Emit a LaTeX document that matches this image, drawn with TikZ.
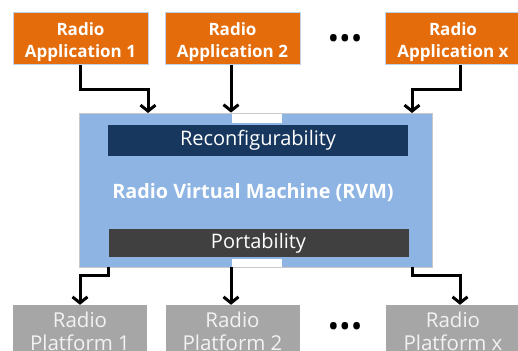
\documentclass[tikz,border=0pt]{standalone}
\usepackage{fontspec}
\setmainfont{Open Sans}
\usetikzlibrary{arrows.meta}

\definecolor{appOrange}{RGB}{228,108,10}
\definecolor{appEdge}{RGB}{190,210,235}
\definecolor{rvmBlue}{RGB}{141,180,226}
\definecolor{rvmEdge}{RGB}{200,200,200}
\definecolor{reconfNavy}{RGB}{23,55,94}
\definecolor{portGray}{RGB}{64,64,64}
\definecolor{platGray}{RGB}{166,166,166}
\definecolor{platText}{RGB}{242,242,242}

\begin{document}
\begin{tikzpicture}
[x=1pt,y=-1pt,
  appDecorate/.style={fill=appOrange,draw=appEdge,line width=0.8pt,
    minimum width=135pt,minimum height=52pt,inner sep=0pt,align=center,
    text height=45pt,text depth=7pt,
    text=white,font=\fontsize{17}{22}\selectfont\bfseries},
  platDecorate/.style={fill=platGray,minimum width=134pt,minimum height=52pt,
    inner sep=0pt,align=center,text=platText,
    font=\fontsize{20.5}{23}\selectfont},
  barDecorate/.style={minimum width=300pt,inner sep=0pt,text=white,
    font=\fontsize{20}{22}\selectfont},
  dotsDecorate/.style={inner sep=0pt,font=\fontsize{31}{31}\selectfont},
  lineDecorate/.style={line width=3pt,-{Straight Barb[length=6pt,width=15pt]}}]
\clip (0,0) rectangle (518,350);
%% applications and platforms
\foreach \nodename/\x/\txt in {
  app1/80.5/Application 1,
  app2/232.5/Application 2,
  appx/453/Application x}
{
  \node (\nodename) at (\x,38.5) [appDecorate] {Radio\\\txt};
}
\foreach \nodename/\x/\txt in {
  plat1/80/Platform 1,
  plat2/232.5/Platform 2,
  platx/453/Platform x}
{
  \node (\nodename) at (\x,331) [platDecorate] {Radio\\\txt};
}
\node (dotsTop) at (345,42) [dotsDecorate] {•••};
\node (dotsBot) at (345,330) [dotsDecorate] {•••};
%% the virtual machine
\node (rvm) at (255.5,190) [fill=rvmBlue,draw=rvmEdge,line width=0.8pt,
  minimum width=353pt,minimum height=154pt,inner sep=0pt] {};
\fill[white] (232,113.5) rectangle (282,123);
\fill[white] (232,259) rectangle (282,266.5);
\node (reconf) at (258,140.5) [barDecorate,fill=reconfNavy,minimum height=31pt]
  {Reconfigurability};
\node (port) at (258.5,243) [barDecorate,fill=portGray,minimum height=28pt]
  {Portability};
\node (rvmLabel) at (253,193) [text=white,font=\fontsize{19.8}{22}\selectfont\bfseries]
  {Radio Virtual Machine (RVM)};
%% ends of connectors
\coordinate (in1) at (148,113);
\coordinate (inx) at (412,113);
\coordinate (out1) at (108,267);
\coordinate (outx) at (412,267);
%% edges or lines
\draw[lineDecorate] (app1.south) -- ++(0,25) -| (in1);
\draw[lineDecorate] (app2.south -| 231,0) -- (rvm.north -| 231,0);
\draw[lineDecorate] ([xshift=7pt]appx.south) -- ++(0,25) -| (inx);
\draw[lineDecorate] (out1) -- ++(0,8) -| (plat1.north);
\draw[lineDecorate] (rvm.south -| 231,0) -- (plat2.north -| 231,0);
\draw[lineDecorate] (outx) -- ++(0,8) -| ([xshift=7pt]platx.north);
\end{tikzpicture}
\end{document}
